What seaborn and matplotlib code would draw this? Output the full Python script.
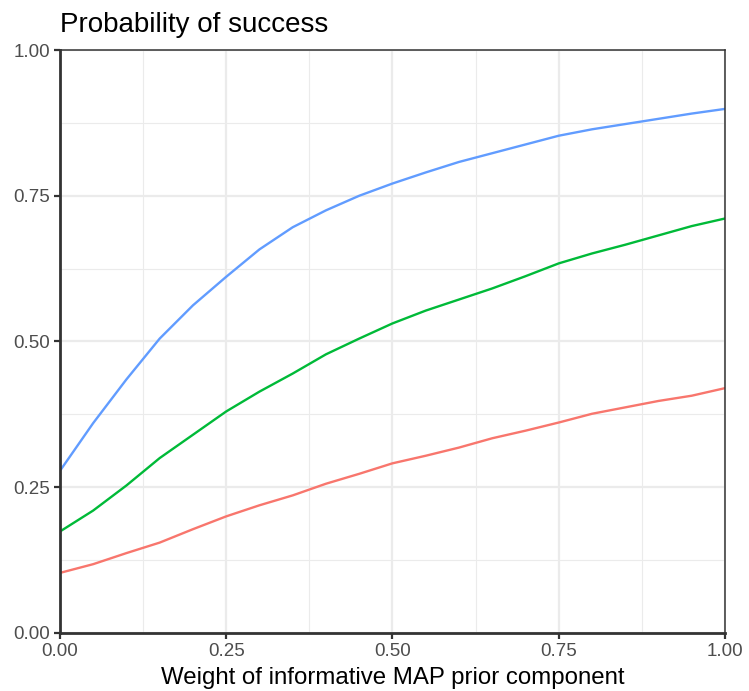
import matplotlib
matplotlib.use("Agg")
import matplotlib.pyplot as plt
import pandas as pd
import seaborn as sns
from matplotlib.ticker import MultipleLocator

# pesos do componente informativo
pesos = [0.00, 0.05, 0.10, 0.15, 0.20, 0.25, 0.30, 0.35, 0.40, 0.45, 0.50,
         0.55, 0.60, 0.65, 0.70, 0.75, 0.80, 0.85, 0.90, 0.95, 1.00]

# probabilidade de sucesso por cenario
prob_baixa = [0.103, 0.118, 0.137, 0.155, 0.178, 0.200, 0.219, 0.236, 0.256, 0.273, 0.291,
              0.304, 0.318, 0.334, 0.347, 0.361, 0.376, 0.387, 0.398, 0.407, 0.420]
prob_media = [0.174, 0.210, 0.253, 0.300, 0.340, 0.380, 0.414, 0.445, 0.478, 0.505, 0.531,
              0.553, 0.572, 0.591, 0.612, 0.634, 0.651, 0.666, 0.682, 0.698, 0.711]
prob_alta = [0.278, 0.360, 0.435, 0.505, 0.562, 0.611, 0.658, 0.696, 0.725, 0.750, 0.771,
             0.790, 0.808, 0.823, 0.838, 0.853, 0.864, 0.873, 0.882, 0.891, 0.899]

cenarios = ['baixa', 'media', 'alta']
cores = ['#F8766D', '#00BA38', '#619CFF']

df = pd.DataFrame({
    'peso': pesos * 3,
    'prob': prob_baixa + prob_media + prob_alta,
    'cenario': [c for c in cenarios for _ in pesos],
})

sns.set_theme(style='white')
plt.rcParams['font.family'] = ['Liberation Sans', 'DejaVu Sans']

fig = plt.figure(figsize=(7.49, 6.91), dpi=100)
ax = fig.add_axes([0.080, 0.084, 0.888, 0.8436])

sns.lineplot(data=df, x='peso', y='prob', hue='cenario', hue_order=cenarios,
             palette=cores, linewidth=1.7, legend=False, ax=ax)

ax.set_xlim(0, 1)
ax.set_ylim(0, 1)
ax.xaxis.set_major_locator(MultipleLocator(0.25))
ax.yaxis.set_major_locator(MultipleLocator(0.25))
ax.xaxis.set_minor_locator(MultipleLocator(0.125))
ax.yaxis.set_minor_locator(MultipleLocator(0.125))
ax.xaxis.set_major_formatter(lambda v, p: f'{v:.2f}')
ax.yaxis.set_major_formatter(lambda v, p: f'{v:.2f}')

# grade estilo ggplot
ax.grid(True, which='major', color='#EBEBEB', linewidth=1.6)
ax.grid(True, which='minor', color='#EBEBEB', linewidth=0.8)
ax.set_axisbelow(True)

for lado in ['top', 'right']:
    ax.spines[lado].set_color('#333333')
    ax.spines[lado].set_linewidth(1.1)
for lado in ['left', 'bottom']:
    ax.spines[lado].set_color('#333333')
    ax.spines[lado].set_linewidth(2.0)

ax.tick_params(which='major', direction='out', length=4, width=1.6, color='#333333',
               labelsize=13.5, labelcolor='#4D4D4D', pad=3,
               bottom=True, left=True)
ax.tick_params(which='minor', length=0)

ax.set_xlabel('Weight of informative MAP prior component', fontsize=17.3,
              color='black', labelpad=5)
ax.set_ylabel('')
ax.set_title('Probability of success', loc='left', fontsize=20, color='black', pad=13)

fig.savefig('out.png', dpi=100)
